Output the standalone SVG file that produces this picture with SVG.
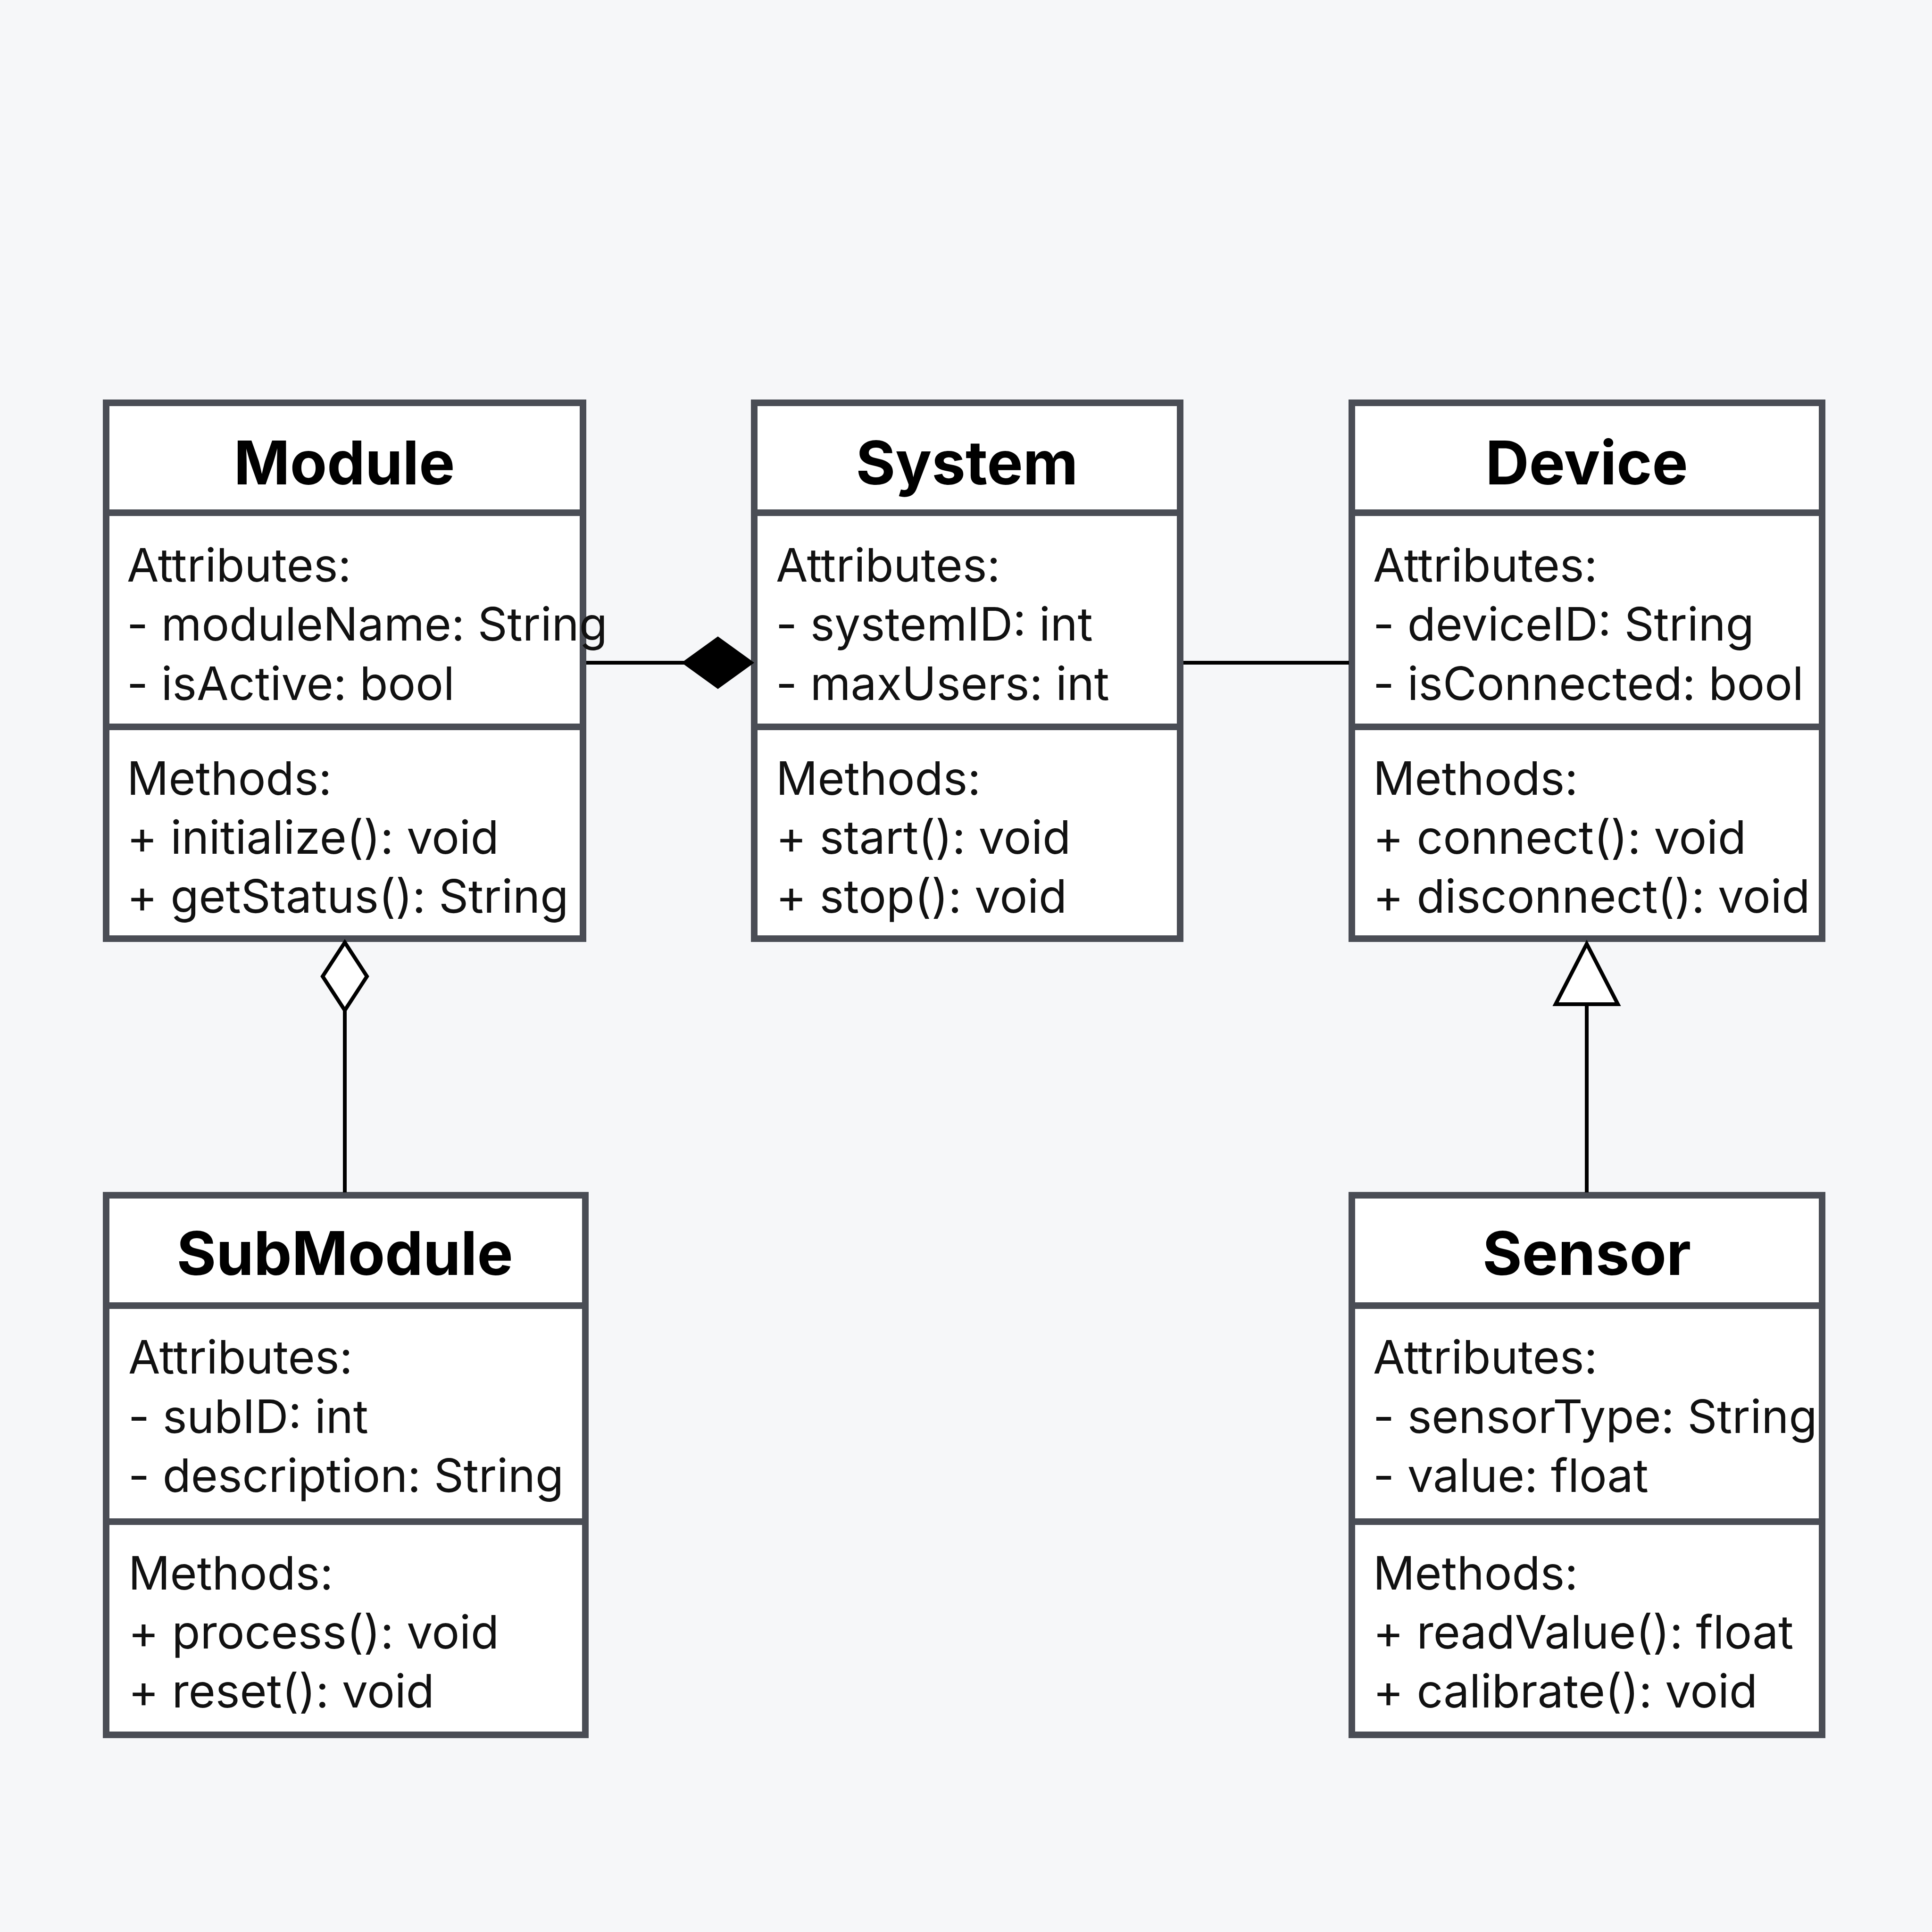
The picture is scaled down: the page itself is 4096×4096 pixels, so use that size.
<svg xmlns="http://www.w3.org/2000/svg" width="4096" height="4096" viewBox="0 0 4096 4096">
<style>
.box{fill:#fff;stroke:#4a4d55;stroke-width:14}
.div{stroke:#4a4d55;stroke-width:14}
.t{font-family:Inter,"Noto Sans",sans-serif;font-weight:700;font-size:128px;text-anchor:middle;fill:#000}
.a{font-family:Inter,"Noto Sans",sans-serif;font-size:98px;fill:#111}
.c{stroke:#000;stroke-width:8;fill:none}
</style>
<rect width="4096" height="4096" fill="#f6f7f9"/>
<g id="Module">
<rect class="box" x="225" y="854" width="1011" height="1136"/>
<line class="div" x1="225" y1="1087" x2="1236" y2="1087"/><line class="div" x1="225" y1="1541" x2="1236" y2="1541"/>
<text class="t" x="730" y="1027">Module</text>
<text class="a" x="269" y="1233">Attributes:</text><text class="a" x="269" y="1358">- moduleName: String</text><text class="a" x="269" y="1484">- isActive: bool</text>
<text class="a" x="269" y="1685">Methods:</text><text class="a" x="269" y="1810">+ initialize(): void</text><text class="a" x="269" y="1935">+ getStatus(): String</text>
</g>
<g id="System">
<rect class="box" x="1599" y="854" width="903" height="1136"/>
<line class="div" x1="1599" y1="1087" x2="2502" y2="1087"/><line class="div" x1="1599" y1="1541" x2="2502" y2="1541"/>
<text class="t" x="2050" y="1027">System</text>
<text class="a" x="1645" y="1233">Attributes:</text><text class="a" x="1645" y="1358">- systemID: int</text><text class="a" x="1645" y="1484">- maxUsers: int</text>
<text class="a" x="1645" y="1685">Methods:</text><text class="a" x="1645" y="1810">+ start(): void</text><text class="a" x="1645" y="1935">+ stop(): void</text>
</g>
<g id="Device">
<rect class="box" x="2866" y="854" width="997" height="1136"/>
<line class="div" x1="2866" y1="1087" x2="3863" y2="1087"/><line class="div" x1="2866" y1="1541" x2="3863" y2="1541"/>
<text class="t" x="3364" y="1027">Device</text>
<text class="a" x="2911" y="1233">Attributes:</text><text class="a" x="2911" y="1358">- deviceID: String</text><text class="a" x="2911" y="1484">- isConnected: bool</text>
<text class="a" x="2911" y="1685">Methods:</text><text class="a" x="2911" y="1810">+ connect(): void</text><text class="a" x="2911" y="1935">+ disconnect(): void</text>
</g>
<g id="SubModule">
<rect class="box" x="225" y="2534" width="1016" height="1144"/>
<line class="div" x1="225" y1="2768" x2="1241" y2="2768"/><line class="div" x1="225" y1="3226" x2="1241" y2="3226"/>
<text class="t" x="731" y="2703">SubModule</text>
<text class="a" x="272" y="2912">Attributes:</text><text class="a" x="272" y="3038">- subID: int</text><text class="a" x="272" y="3163">- description: String</text>
<text class="a" x="272" y="3370">Methods:</text><text class="a" x="272" y="3495">+ process(): void</text><text class="a" x="272" y="3620">+ reset(): void</text>
</g>
<g id="Sensor">
<rect class="box" x="2866" y="2534" width="997" height="1144"/>
<line class="div" x1="2866" y1="2768" x2="3863" y2="2768"/><line class="div" x1="2866" y1="3226" x2="3863" y2="3226"/>
<text class="t" x="3364" y="2703">Sensor</text>
<text class="a" x="2911" y="2912">Attributes:</text><text class="a" x="2911" y="3038">- sensorType: String</text><text class="a" x="2911" y="3163">- value: float</text>
<text class="a" x="2911" y="3370">Methods:</text><text class="a" x="2911" y="3495">+ readValue(): float</text><text class="a" x="2911" y="3620">+ calibrate(): void</text>
</g>
<g id="connectors">
<line class="c" x1="1243" y1="1405" x2="1450" y2="1405"/>
<polygon points="1450,1405 1522,1353 1594,1405 1522,1457" fill="#000" stroke="#000" stroke-width="6"/>
<line class="c" x1="2509" y1="1405" x2="2860" y2="1405"/>
<polygon points="731,1998 778,2070 731,2142 684,2070" fill="#fff" stroke="#000" stroke-width="8"/>
<line class="c" x1="731" y1="2142" x2="731" y2="2528"/>
<polygon points="3364,2001 3430,2129 3298,2129" fill="#fff" stroke="#000" stroke-width="8"/>
<line class="c" x1="3364" y1="2129" x2="3364" y2="2528"/>
</g>
</svg>
